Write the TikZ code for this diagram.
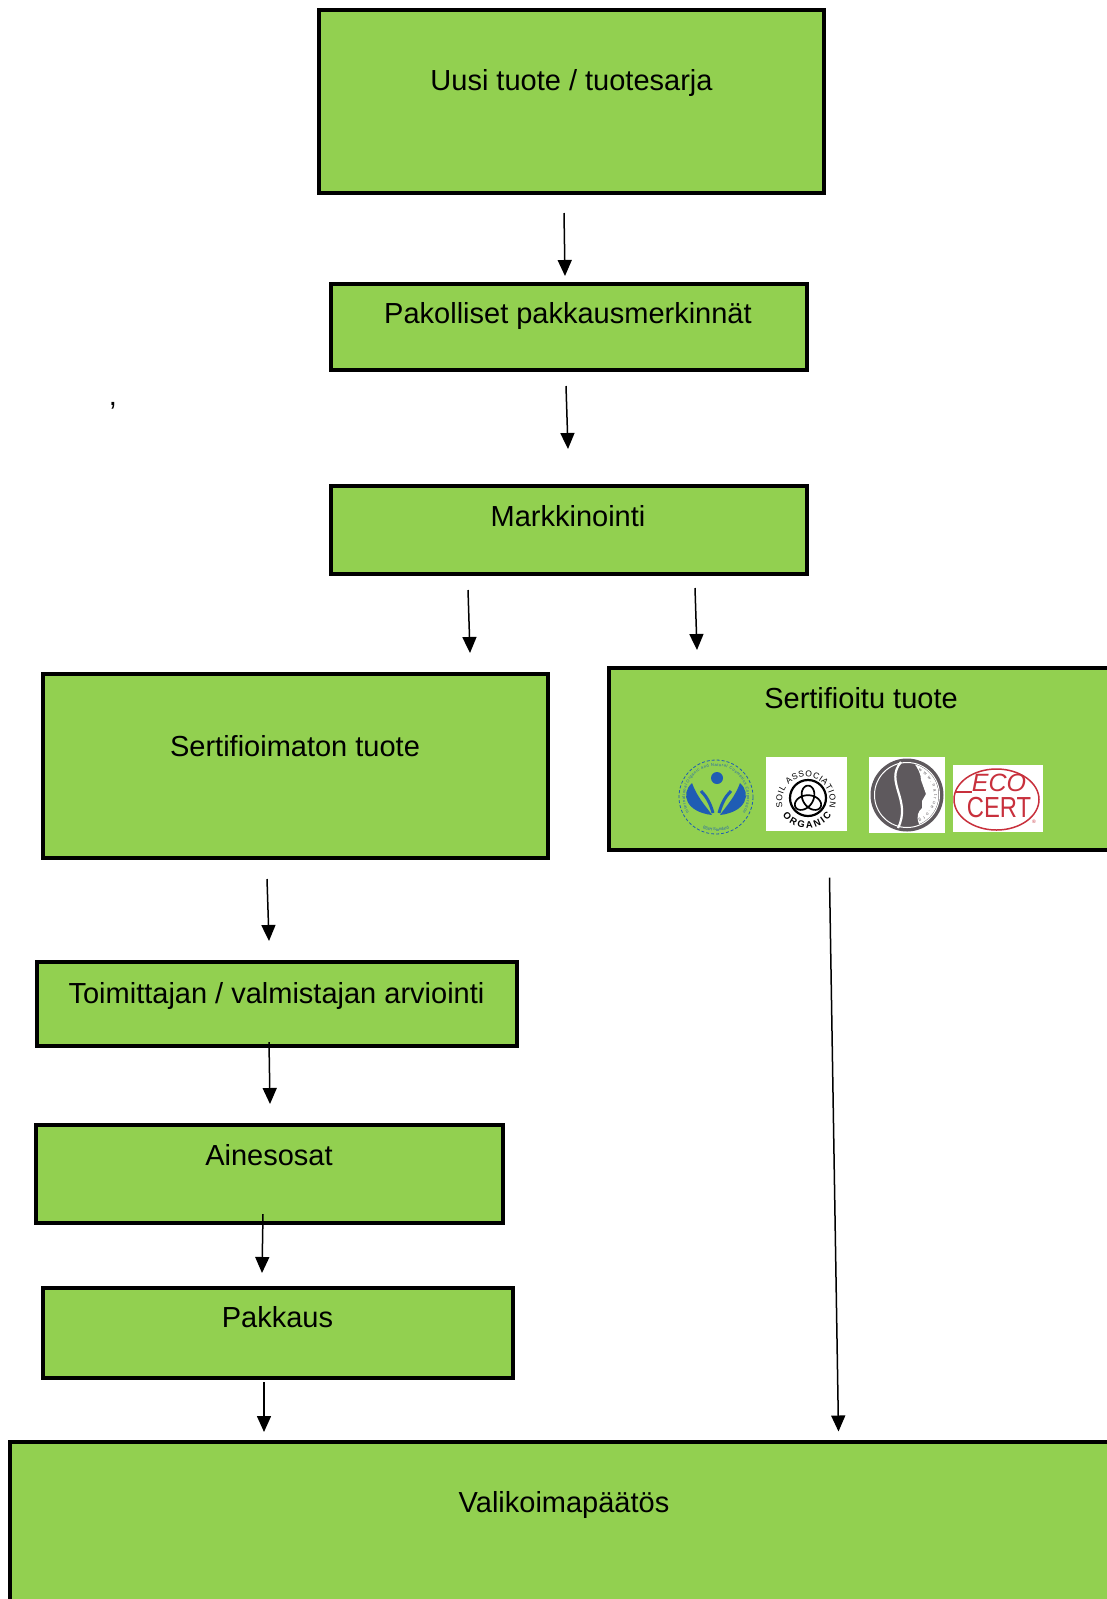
\documentclass[tikz,border=0pt]{standalone}
\usepackage{fontspec}
\setmainfont{Liberation Sans}
\usetikzlibrary{arrows.meta,decorations.text}
\definecolor{leaf}{HTML}{92D050}
\definecolor{bdih}{HTML}{1F5DB4}
\definecolor{natgray}{HTML}{5E595D}
\definecolor{ecored}{HTML}{C8303C}
\tikzset{
  box/.style = {draw, fill=leaf, line width=4pt, inner sep=0pt},
  lbl/.style = {anchor=base, inner sep=0pt, font=\fontsize{29}{34}\selectfont},
  flow/.style = {->, line width=1.5pt},
}
\begin{document}
\begin{tikzpicture}[x=1pt, y=-1pt, >={Triangle[length=16pt,width=14pt]}]
  \useasboundingbox (0,0) rectangle (1107,1599);
  \clip (0,0) rectangle (1107,1599);
  \fill[white] (0,0) rectangle (1107,1599);
  % boxes
  \node[box, minimum width=505, minimum height=183] (uusi) at (571.5,101.5) {};
  \node[box, minimum width=476, minimum height=86] (pakol) at (569,327) {};
  \node[box, minimum width=476, minimum height=88] (markk) at (569,530) {};
  \node[box, minimum width=505, minimum height=184] (eiserti) at (295.5,766) {};
  \node[box, minimum width=521, minimum height=182] (serti) at (869.5,759) {};
  \node[box, minimum width=480, minimum height=84] (toim) at (277,1004) {};
  \node[box, minimum width=467, minimum height=98] (aines) at (269.5,1174) {};
  \node[box, minimum width=470, minimum height=90] (pakkaus) at (278,1333) {};
  \node[box, minimum width=1120, minimum height=198] (valik) at (570,1541) {};
  % labels
  \node[lbl] (uusi-t) at (571.5,90) {Uusi tuote / tuotesarja};
  \node[lbl] (pakol-t) at (568,323) {Pakolliset pakkausmerkinnät};
  \node[lbl] (markk-t) at (568,526) {Markkinointi};
  \node[lbl] (eiserti-t) at (295,756) {Sertifioimaton tuote};
  \node[lbl] (serti-t) at (861,708) {Sertifioitu tuote};
  \node[lbl] (toim-t) at (276.5,1003) {Toimittajan / valmistajan arviointi};
  \node[lbl] (aines-t) at (269,1165) {Ainesosat};
  \node[lbl] (pakkaus-t) at (277.5,1327) {Pakkaus};
  \node[lbl] (valik-t) at (564,1512) {Valikoimapäätös};
  \node[lbl] (pilkku) at (113,405) {,};
  % arrows
  \coordinate (uusi-a) at (564,213);      \coordinate (uusi-b) at (565,276);
  \coordinate (pakol-a) at (566,386);     \coordinate (pakol-b) at (568,449);
  \coordinate (markk-a) at (468,590);     \coordinate (markk-b) at (470,653);
  \coordinate (markk-c) at (695,588);     \coordinate (markk-d) at (697,650);
  \coordinate (eiserti-a) at (267,879);   \coordinate (eiserti-b) at (269,941);
  \coordinate (toim-a) at (269,1042);     \coordinate (toim-b) at (270,1104);
  \coordinate (aines-a) at (263,1214);    \coordinate (aines-b) at (262,1273);
  \coordinate (pakkaus-a) at (264,1382);  \coordinate (pakkaus-b) at (264,1432);
  \coordinate (serti-a) at (829.5,877.5); \coordinate (serti-b) at (838.5,1431.5);
  \draw[flow] (uusi-a) -- (uusi-b);
  \draw[flow] (pakol-a) -- (pakol-b);
  \draw[flow] (markk-a) -- (markk-b);
  \draw[flow] (markk-c) -- (markk-d);
  \draw[flow] (eiserti-a) -- (eiserti-b);
  \draw[flow] (toim-a) -- (toim-b);
  \draw[flow] (aines-a) -- (aines-b);
  \draw[flow] (pakkaus-a) -- (pakkaus-b);
  \draw[flow] (serti-a) -- (serti-b);
  % logo: BDIH
  \draw[bdih, densely dashed, line width=0.8pt] (716,797) circle (37);
  \path[decorate, decoration={text along path, text align=fit to path, text color=bdih,
    text={|\fontsize{4}{4}\selectfont|International Organic and Natural Cosmetics Corporation}}]
    (716,797) ++(150:31) arc (150:390:31);
  \path[decorate, decoration={text along path, text align=center, text color=bdih,
    text={|\fontsize{4}{4}\selectfont|BDIH Standard}}]
    (716,797) ++(130:34) arc (130:50:34);
  \fill[bdih] (717,778) circle (6);
  \fill[bdih] (712,815) .. controls (686,812) and (680,794) .. (692,783)
    .. controls (697,797) and (705,805) .. (712,815) -- cycle;
  \fill[bdih] (720,815) .. controls (746,812) and (752,794) .. (740,783)
    .. controls (735,797) and (727,805) .. (720,815) -- cycle;
  \draw[bdih, line width=3pt] (713,813) .. controls (710,802) and (706,796) .. (701,791);
  \draw[bdih, line width=3pt] (719,813) .. controls (722,802) and (726,796) .. (731,791);
  % logo: Soil Association
  \fill[white] (766,757) rectangle (847,831);
  \draw[line width=2.2pt] (808,798) circle (18);
  \draw[line width=1.7pt, shift={(808,800)}, domain=0:360, samples=120, smooth, variable=\t]
    plot ({4.8*(sin(\t)+2*sin(2*\t))}, {4.8*(cos(\t)-2*cos(2*\t))});
  \path[decorate, decoration={text along path, text align=fit to path,
    text={|\fontsize{8.5}{8.5}\selectfont|SOIL ASSOCIATION}}]
    (806,801) ++(165:24) arc (165:375:24);
  \path[decorate, decoration={text along path, text align=fit to path,
    text={|\bfseries\fontsize{9.5}{9.5}\selectfont|ORGANIC}}]
    (807,798) ++(145:30) arc (145:35:30);
  % logo: Natrue
  \fill[white] (869,757) rectangle (945,833);
  \fill[natgray] (907,795) circle (36.5);
  \draw[white, line width=1pt] (907,795) circle (32.5);
  \begin{scope}
    \clip (907,795) circle (31.5);
    \fill[white] (913,762) .. controls (918,768) and (921,774) .. (921,780)
      -- (926,794) -- (922,801) -- (922,808) .. controls (918,812) and (916,816) .. (919,824)
      -- (950,830) -- (950,758) -- cycle;
  \end{scope}
  \draw[white, line width=2.2pt] (901,762) .. controls (884,782) and (912,800) .. (898,828);
  \path[decorate, decoration={text along path, text align=fit to path, text color=natgray,
    text={|\fontsize{4.5}{4.5}\selectfont|www.natrue.org}}]
    (907,795) ++(-65:27) arc (-65:65:27);
  % logo: Ecocert
  \fill[white] (953,765) rectangle (1043,832);
  \draw[ecored, line width=1.5pt] (996.5,799.5) ellipse (42.5 and 30.5);
  \draw[ecored, line width=1.5pt] (955,792) -- (972,792);
  \node[ecored, anchor=base, inner sep=0pt, font=\fontsize{25}{25}\selectfont\itshape] (eco) at (999,791) {ECO};
  \node[ecored, anchor=base, inner sep=0pt, xscale=0.82, font=\fontsize{29}{29}\selectfont] (cert) at (999,817) {CERT};
  \node[ecored, inner sep=0pt, font=\fontsize{5}{5}\selectfont] (reg) at (1034,822) {®};
\end{tikzpicture}
\end{document}
